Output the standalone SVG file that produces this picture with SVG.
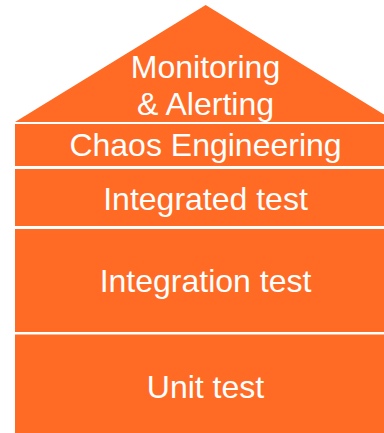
<svg xmlns="http://www.w3.org/2000/svg" width="384" height="433" viewBox="0 0 384 433">
<style>
.b{fill:#FF6B25}
.t{fill:#FFFFFF;font-family:"Liberation Sans",Arial,sans-serif;font-size:32px;text-anchor:middle}
</style>
<rect width="384" height="433" fill="#FFFFFF"/>
<g id="roof">
<polygon class="b" points="205.7,5 15,122 396.4,122"/>
<text class="t" x="205.5" y="77.5">Monitoring</text>
<text class="t" x="205.5" y="115">&amp; Alerting</text>
</g>
<g id="chaos">
<rect class="b" x="15" y="124" width="369" height="42"/>
<text class="t" x="205.5" y="156">Chaos Engineering</text>
</g>
<g id="integrated">
<rect class="b" x="15" y="169" width="369" height="57"/>
<text class="t" x="205.5" y="209.5">Integrated test</text>
</g>
<g id="integration">
<rect class="b" x="15" y="229" width="369" height="103"/>
<text class="t" x="205.5" y="291.5">Integration test</text>
</g>
<g id="unit">
<rect class="b" x="15" y="334.5" width="369" height="98.5"/>
<text class="t" x="205.5" y="397.5">Unit test</text>
</g>
<g id="connectors"/>
</svg>
